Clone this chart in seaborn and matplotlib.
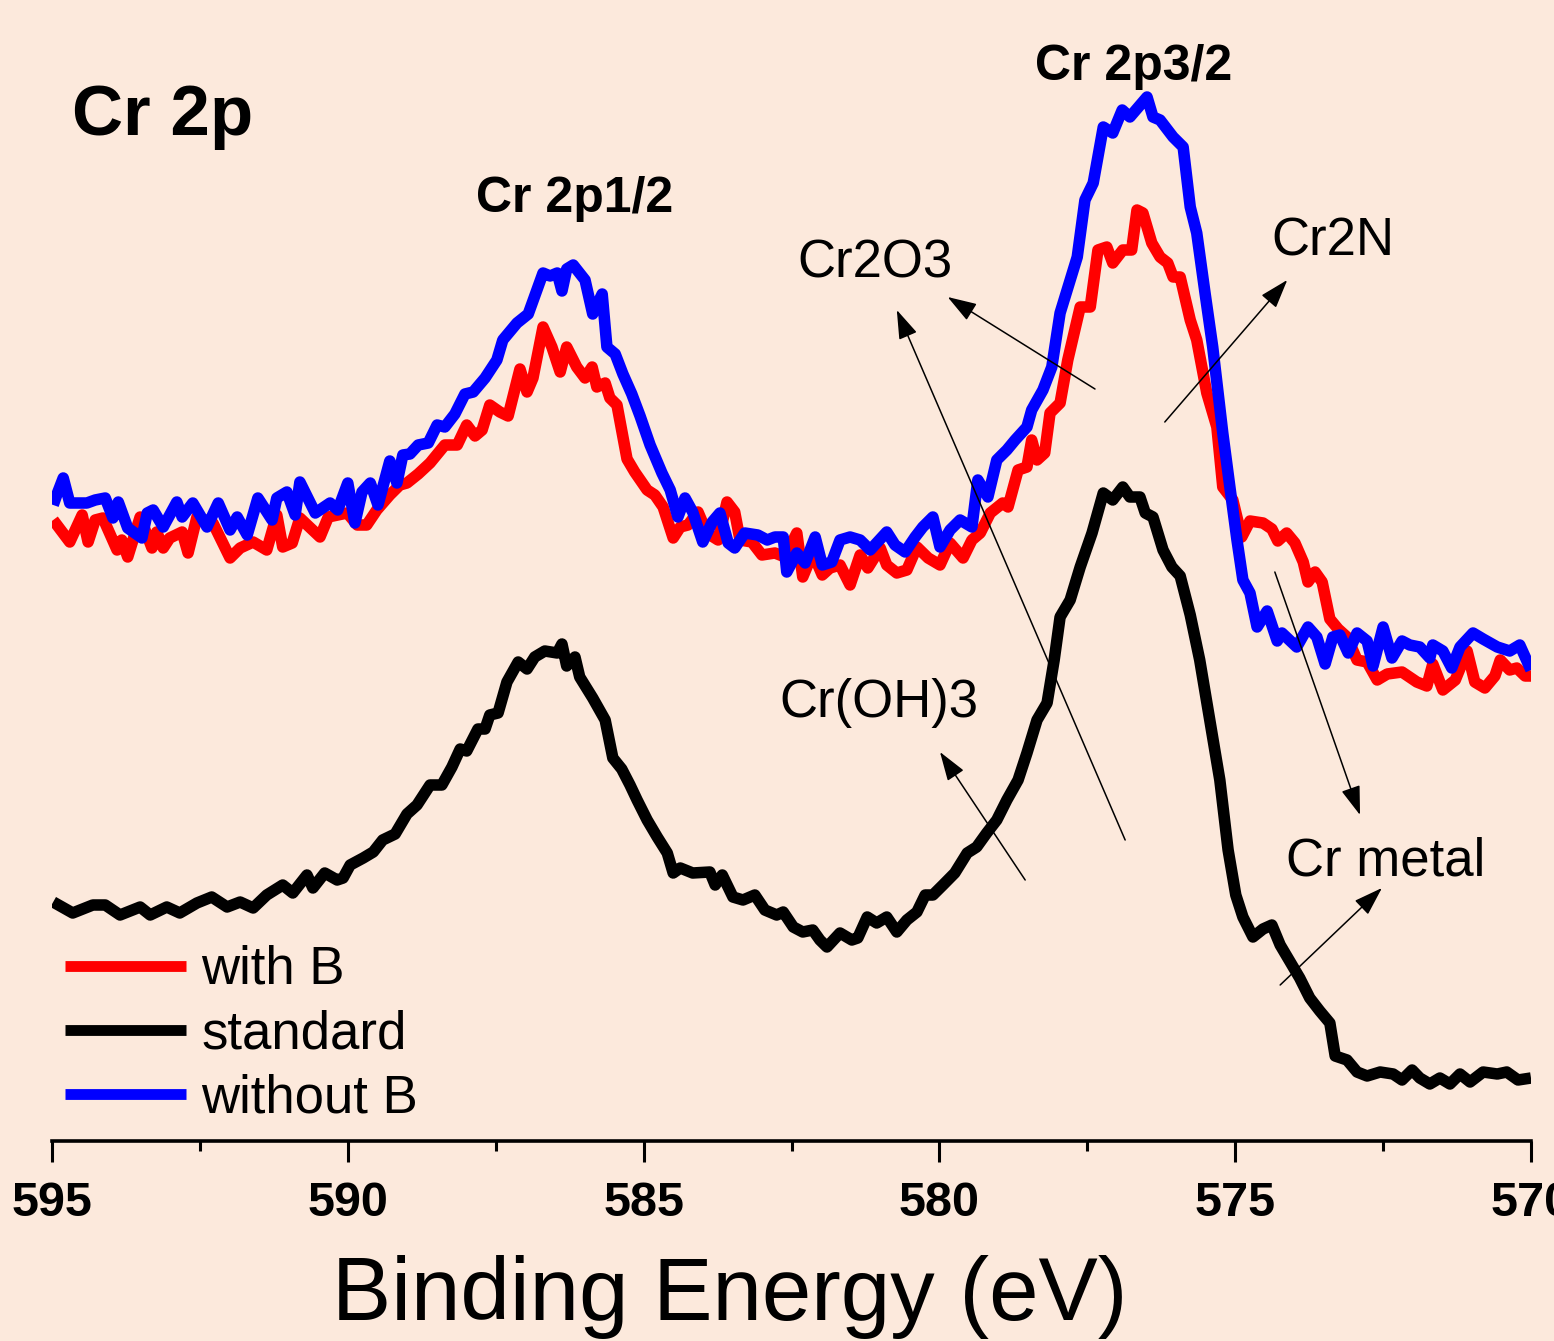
import matplotlib
matplotlib.use("Agg")
import matplotlib.pyplot as plt
from matplotlib.lines import Line2D
import numpy as np
import pandas as pd
import seaborn as sns

sns.set_style("white")
plt.rcParams['font.family'] = ['Liberation Sans', 'DejaVu Sans']
plt.rcParams.update({"text.color": "black", "axes.labelcolor": "black",
                     "xtick.color": "black", "ytick.color": "black"})

BG = "#FCE9DC"

# ---------------- data (binding energy in eV, intensity in a.u.) ----------------
with_b_energy = [594.98, 594.70, 594.49, 594.39, 594.27, 594.14, 593.90, 593.82, 593.72, 593.51,
                 593.31, 593.23, 593.12, 593.01, 592.80, 592.70, 592.55, 592.28, 591.99, 591.82,
                 591.60, 591.37, 591.20, 591.10, 590.94, 590.81, 590.47, 590.33, 590.01, 589.84,
                 589.68, 589.51, 589.29, 589.12, 589.00, 588.81, 588.61, 588.36, 588.15, 587.99,
                 587.85, 587.73, 587.60, 587.43, 587.29, 587.09, 586.97, 586.87, 586.70, 586.55,
                 586.41, 586.30, 586.13, 585.99, 585.87, 585.79, 585.65, 585.57, 585.45, 585.28,
                 585.15, 584.94, 584.81, 584.67, 584.50, 584.38, 584.25, 584.08, 583.93, 583.74,
                 583.59, 583.46, 583.37, 583.17, 583.00, 582.78, 582.61, 582.41, 582.31, 582.14,
                 581.98, 581.85, 581.68, 581.51, 581.34, 581.21, 581.00, 580.89, 580.72, 580.55,
                 580.38, 580.19, 579.99, 579.82, 579.60, 579.45, 579.31, 579.14, 578.93, 578.84,
                 578.67, 578.52, 578.44, 578.35, 578.22, 578.13, 577.96, 577.83, 577.62, 577.45,
                 577.32, 577.17, 577.07, 576.90, 576.75, 576.66, 576.56, 576.41, 576.27, 576.14,
                 576.05, 575.93, 575.76, 575.65, 575.48, 575.31, 575.21, 575.04, 574.89, 574.75,
                 574.53, 574.38, 574.28, 574.13, 573.99, 573.85, 573.77, 573.65, 573.53, 573.40,
                 573.26, 573.11, 572.94, 572.77, 572.60, 572.43, 572.18, 571.93, 571.76, 571.66,
                 571.49, 571.28, 571.08, 570.95, 570.78, 570.61, 570.52, 570.36, 570.24, 570.10,
                 570.00]
with_b_intensity = [621, 599, 626, 599, 621, 623, 591, 601, 584, 624,
                    593, 609, 593, 603, 609, 588, 624, 618, 583, 593,
                    599, 591, 626, 594, 598, 623, 604, 624, 628, 616,
                    616, 631, 646, 656, 658, 667, 678, 696, 696, 716,
                    705, 711, 736, 729, 725, 772, 749, 763, 814, 794,
                    769, 794, 774, 763, 774, 754, 758, 743, 736, 682,
                    669, 651, 646, 634, 603, 614, 616, 629, 608, 601,
                    639, 629, 601, 599, 586, 588, 584, 608, 564, 588,
                    566, 573, 576, 556, 586, 573, 593, 576, 568, 571,
                    594, 583, 576, 598, 583, 601, 608, 628, 638, 634,
                    671, 674, 701, 681, 688, 728, 738, 781, 834, 834,
                    891, 894, 878, 891, 891, 931, 928, 898, 884, 878,
                    864, 864, 821, 801, 748, 714, 654, 641, 604, 620,
                    618, 612, 600, 608, 598, 579, 559, 569, 559, 522,
                    512, 504, 481, 479, 461, 467, 469, 459, 455, 477,
                    451, 461, 490, 459, 453, 465, 481, 471, 473, 465,
                    465]

standard_energy = [594.98, 594.65, 594.31, 594.10, 593.85, 593.51, 593.34, 593.06, 592.84, 592.55,
                   592.30, 592.04, 591.82, 591.60, 591.37, 591.10, 590.93, 590.69, 590.59, 590.39,
                   590.18, 590.08, 589.96, 589.74, 589.57, 589.41, 589.20, 589.00, 588.83, 588.61,
                   588.41, 588.24, 588.10, 587.99, 587.80, 587.68, 587.60, 587.46, 587.31, 587.12,
                   586.97, 586.84, 586.67, 586.46, 586.38, 586.30, 586.16, 586.08, 585.86, 585.65,
                   585.52, 585.37, 585.23, 585.11, 584.94, 584.77, 584.60, 584.50, 584.38, 584.17,
                   583.88, 583.79, 583.67, 583.49, 583.32, 583.12, 582.95, 582.75, 582.64, 582.47,
                   582.31, 582.14, 582.02, 581.90, 581.68, 581.48, 581.38, 581.22, 581.06, 580.89,
                   580.72, 580.55, 580.38, 580.24, 580.11, 579.94, 579.74, 579.53, 579.37, 579.20,
                   579.03, 578.86, 578.67, 578.52, 578.35, 578.18, 578.06, 577.96, 577.79, 577.62,
                   577.42, 577.23, 577.07, 576.90, 576.78, 576.61, 576.52, 576.39, 576.22, 576.07,
                   575.93, 575.76, 575.60, 575.43, 575.26, 575.12, 574.99, 574.87, 574.70, 574.53,
                   574.38, 574.24, 574.07, 573.91, 573.74, 573.57, 573.40, 573.31, 573.11, 572.94,
                   572.77, 572.55, 572.33, 572.18, 572.01, 571.88, 571.71, 571.54, 571.37, 571.20,
                   571.03, 570.81, 570.57, 570.41, 570.22, 570.00]
standard_intensity = [239, 228, 236, 236, 226, 234, 226, 234, 228, 238,
                      244, 234, 239, 233, 246, 256, 248, 266, 253, 268,
                      261, 263, 276, 283, 289, 301, 307, 327, 336, 356,
                      356, 374, 392, 390, 412, 412, 426, 428, 459, 479,
                      472, 484, 490, 488, 497, 475, 484, 464, 443, 421,
                      383, 372, 356, 341, 321, 304, 288, 268, 273, 268,
                      269, 256, 266, 244, 241, 246, 231, 226, 229, 214,
                      209, 211, 201, 194, 208, 201, 203, 224, 218, 224,
                      209, 221, 229, 246, 246, 256, 268, 288, 294, 308,
                      321, 341, 361, 388, 421, 438, 481, 524, 541, 574,
                      608, 648, 641, 654, 644, 644, 628, 624, 591, 574,
                      565, 526, 481, 421, 361, 291, 246, 224, 204, 212,
                      216, 196, 179, 163, 143, 130, 118, 85, 81, 69,
                      65, 69, 67, 61, 71, 63, 57, 63, 57, 67,
                      59, 69, 67, 69, 61, 63]

without_b_energy = [594.98, 594.92, 594.81, 594.70, 594.41, 594.27, 594.10, 593.97, 593.88, 593.72,
                    593.48, 593.39, 593.29, 593.12, 592.89, 592.80, 592.62, 592.38, 592.19, 591.99,
                    591.87, 591.70, 591.52, 591.28, 591.20, 591.03, 590.89, 590.81, 590.55, 590.30,
                    590.17, 590.00, 589.88, 589.76, 589.62, 589.49, 589.29, 589.17, 589.07, 588.95,
                    588.81, 588.64, 588.49, 588.36, 588.19, 588.02, 587.88, 587.68, 587.48, 587.38,
                    587.14, 586.95, 586.70, 586.58, 586.46, 586.38, 586.30, 586.19, 585.99, 585.86,
                    585.70, 585.62, 585.48, 585.35, 585.20, 585.06, 584.89, 584.69, 584.55, 584.42,
                    584.30, 584.17, 584.00, 583.84, 583.71, 583.57, 583.46, 583.29, 583.07, 582.91,
                    582.78, 582.64, 582.58, 582.41, 582.27, 582.10, 581.98, 581.82, 581.68, 581.51,
                    581.34, 581.17, 580.89, 580.75, 580.58, 580.41, 580.28, 580.11, 579.99, 579.82,
                    579.65, 579.45, 579.35, 579.18, 579.03, 578.86, 578.72, 578.52, 578.44, 578.25,
                    578.10, 577.96, 577.67, 577.54, 577.40, 577.23, 577.07, 576.91, 576.78, 576.49,
                    576.39, 576.27, 576.05, 575.88, 575.76, 575.65, 575.51, 575.38, 575.21, 575.09,
                    574.97, 574.87, 574.75, 574.63, 574.46, 574.29, 574.21, 573.96, 573.77, 573.62,
                    573.48, 573.35, 573.23, 573.09, 572.94, 572.77, 572.67, 572.50, 572.35, 572.18,
                    572.05, 571.88, 571.71, 571.66, 571.49, 571.34, 571.20, 570.98, 570.81, 570.57,
                    570.36, 570.19, 570.00]
without_b_intensity = [636, 646, 663, 638, 638, 641, 643, 623, 639, 613,
                       603, 628, 631, 614, 639, 624, 638, 614, 638, 611,
                       624, 606, 643, 621, 643, 649, 626, 659, 628, 638,
                       631, 658, 618, 649, 658, 636, 680, 658, 686, 687,
                       696, 698, 716, 714, 727, 747, 749, 763, 781, 801,
                       818, 827, 868, 865, 868, 850, 872, 876, 861, 827,
                       847, 794, 787, 767, 747, 725, 696, 668, 651, 624,
                       643, 629, 599, 619, 628, 598, 593, 608, 606, 601,
                       604, 604, 569, 588, 578, 604, 576, 579, 601, 604,
                       601, 591, 609, 596, 589, 604, 614, 624, 594, 611,
                       621, 614, 661, 644, 681, 691, 701, 714, 731, 751,
                       774, 828, 884, 941, 958, 1014, 1008, 1031, 1024, 1044,
                       1024, 1021, 1004, 994, 934, 908, 848, 794, 708, 654,
                       601, 561, 548, 514, 530, 500, 508, 494, 514, 504,
                       477, 504, 506, 488, 508, 500, 475, 514, 483, 500,
                       496, 494, 483, 496, 490, 473, 494, 508, 502, 494,
                       490, 496, 471]

series_names = ["with B", "standard", "without B"]
series_colors = ["#FF0000", "#000000", "#0000FF"]

# peak / component labels (energy, intensity)
peak_labels = ["Cr 2p3/2", "Cr 2p1/2"]
peak_label_x = [576.71, 586.16]
peak_label_y = [1061, 929]

component_labels = ["Cr2O3", "Cr2N", "Cr(OH)3", "Cr metal"]
component_label_x = [581.09, 573.35, 581.02, 572.45]
component_label_y = [864, 885, 424, 266]

# arrows: (tail_x, tail_y) -> (head_x, head_y)
arrow_tail_x = [577.37, 576.86, 576.19, 578.55, 574.33, 574.24]
arrow_tail_y = [752, 301, 719, 261, 569, 156]
arrow_head_x = [579.86, 580.72, 574.12, 579.99, 572.89, 572.52]
arrow_head_y = [844, 831, 861, 389, 326, 253]

x_ticks = [595, 590, 585, 580, 575, 570]
x_minor_ticks = [592.5, 587.5, 582.5, 577.5, 572.5]

# ---------------- build long-form table ----------------
frames = []
for name, e, i in [("with B", with_b_energy, with_b_intensity),
                   ("standard", standard_energy, standard_intensity),
                   ("without B", without_b_energy, without_b_intensity)]:
    frames.append(pd.DataFrame({"Binding Energy": e, "Intensity": i, "Sample": name}))
df = pd.concat(frames, ignore_index=True)

# ---------------- figure ----------------
fig = plt.figure(figsize=(15.54, 13.41), dpi=100, facecolor=BG)
ax = fig.add_axes([52 / 1554, 200 / 1341, 1479 / 1554, 1141 / 1341])
ax.set_facecolor(BG)

sns.lineplot(data=df, x="Binding Energy", y="Intensity", hue="Sample",
             hue_order=series_names, palette=dict(zip(series_names, series_colors)),
             estimator=None, sort=True, linewidth=8.3, ax=ax, legend=False)
for ln in ax.get_lines():
    ln.set_solid_joinstyle("round")
    ln.set_solid_capstyle("butt")

ax.set_xlim(595, 570)
ax.set_ylim(0, 1141)

# spines / ticks
for s in ["left", "top", "right"]:
    ax.spines[s].set_visible(False)
ax.spines["bottom"].set_linewidth(2.6)
ax.spines["bottom"].set_color("black")
ax.set_yticks([])
ax.set_xticks(x_ticks)
ax.set_xticks(x_minor_ticks, minor=True)
ax.tick_params(axis="x", which="major", direction="out", length=15, width=2.2,
               colors="black", labelsize=35, pad=14, bottom=True)
ax.tick_params(axis="x", which="minor", direction="out", length=7.5, width=2.2,
               colors="black", bottom=True)
for lbl in ax.get_xticklabels():
    lbl.set_fontweight("bold")
ax.set_xlabel("Binding Energy (eV)", fontsize=64)
ax.xaxis.set_label_coords(0.4584, -0.1569)
ax.xaxis.label.set_va("baseline")
ax.set_ylabel("")

# legend
handles = [Line2D([0], [0], color=c, lw=7.8, solid_capstyle="butt") for c in series_colors]
ax.legend(handles, series_names, loc="upper left", bbox_to_anchor=(0.0088, 0.1718),
          frameon=False, fontsize=38, handlelength=2.3, handletextpad=0.28,
          labelspacing=0.27, borderpad=0, borderaxespad=0)

# titles / labels
ax.text(594.66, 1006, "Cr 2p", fontsize=51, fontweight="bold", ha="left", va="baseline")
for t, x, y in zip(peak_labels, peak_label_x, peak_label_y):
    ax.text(x, y, t, fontsize=36, fontweight="bold", ha="center", va="baseline")
for t, x, y in zip(component_labels, component_label_x, component_label_y):
    ax.text(x, y, t, fontsize=38, ha="center", va="baseline")

for tx, ty, hx, hy in zip(arrow_tail_x, arrow_tail_y, arrow_head_x, arrow_head_y):
    ax.annotate("", xy=(hx, hy), xytext=(tx, ty),
                arrowprops=dict(arrowstyle="-|>,head_length=0.6,head_width=0.2",
                                mutation_scale=30, color="black", lw=1.1,
                                shrinkA=0, shrinkB=0))

fig.savefig("out.png", dpi=100, facecolor=BG)
